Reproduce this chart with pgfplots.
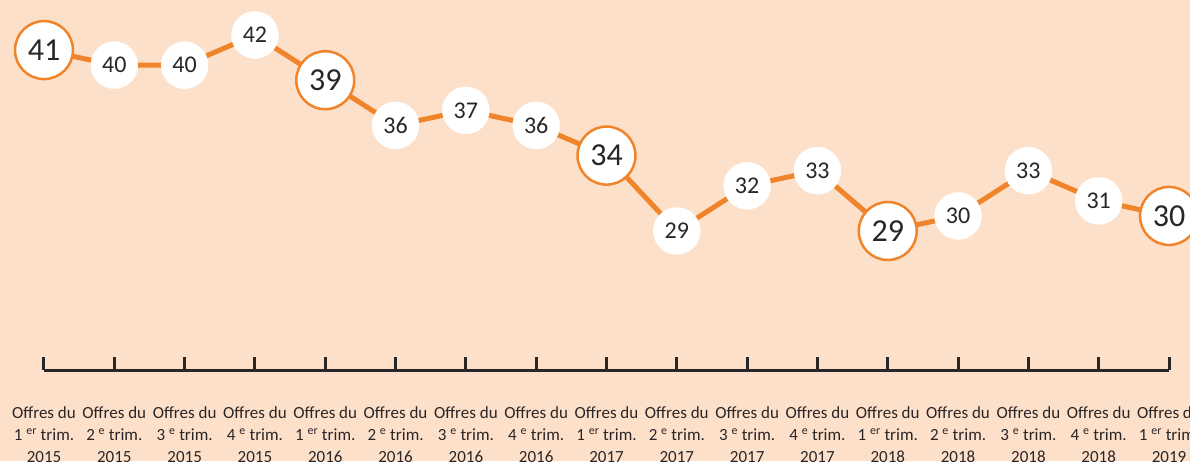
\documentclass[border=0pt]{standalone}
\usepackage{pgfplots}
\pgfplotsset{compat=1.18}
\usepackage{fontspec}
\setmainfont{Carlito}
\definecolor{bg}{HTML}{FDE0CA}
\definecolor{orng}{HTML}{F0842A}
\definecolor{dark}{HTML}{2A2627}
\newcommand{\lab}[3]{Offres du\\#1 \textsuperscript{#2} trim.\\#3}
\begin{document}
\begin{tikzpicture}
\path[use as bounding box] (0,0) rectangle (1190pt,461pt);
\clip (0,0) rectangle (1190pt,461pt);
\fill[bg] (0,0) rectangle (1190pt,461pt);
\begin{axis}[
  at={(44pt,91pt)}, anchor=south west,
  scale only axis, width=1125pt, height=335pt,
  xmin=0, xmax=16, ymin=19.78, ymax=42,
  axis x line*=bottom, axis y line=none,
  x axis line style={line width=3pt, draw=dark},
  xtick={0,...,16},
  xticklabels={{\lab{1}{er}{2015}},{\lab{2}{e}{2015}},{\lab{3}{e}{2015}},{\lab{4}{e}{2015}},
    {\lab{1}{er}{2016}},{\lab{2}{e}{2016}},{\lab{3}{e}{2016}},{\lab{4}{e}{2016}},
    {\lab{1}{er}{2017}},{\lab{2}{e}{2017}},{\lab{3}{e}{2017}},{\lab{4}{e}{2017}},
    {\lab{1}{er}{2018}},{\lab{2}{e}{2018}},{\lab{3}{e}{2018}},{\lab{4}{e}{2018}},
    {\lab{1}{er}{2019}}},
  major tick length=13pt, tick align=inside,
  tick style={line width=3pt, draw=dark},
  xticklabel style={align=center, font=\fontsize{17}{22}\selectfont, text=dark, yshift=-33pt},
  clip=false,
  /pgf/number format/assume math mode=true,
]
\addplot[orng, line width=5pt] coordinates {
  (0,41)(1,40)(2,40)(3,42)(4,39)(5,36)(6,37)(7,36)(8,34)
  (9,29)(10,32)(11,33)(12,29)(13,30)(14,33)(15,31)(16,30)};
\addplot[white, only marks, mark=*, mark size=23.5pt, mark options={fill=white, draw=white},
  nodes near coords,
  every node near coord/.style={anchor=center, font=\fontsize{24}{26}\selectfont, text=dark}]
  coordinates {(1,40)(2,40)(3,42)(5,36)(6,37)(7,36)(9,29)(10,32)(11,33)(13,30)(14,33)(15,31)};
\addplot[orng, only marks, mark=*, mark size=29pt, mark options={fill=white, draw=orng, line width=2.5pt},
  nodes near coords,
  every node near coord/.style={anchor=center, font=\fontsize{32}{34}\selectfont, text=dark}]
  coordinates {(0,41)(4,39)(8,34)(12,29)(16,30)};
\end{axis}
\end{tikzpicture}
\end{document}
